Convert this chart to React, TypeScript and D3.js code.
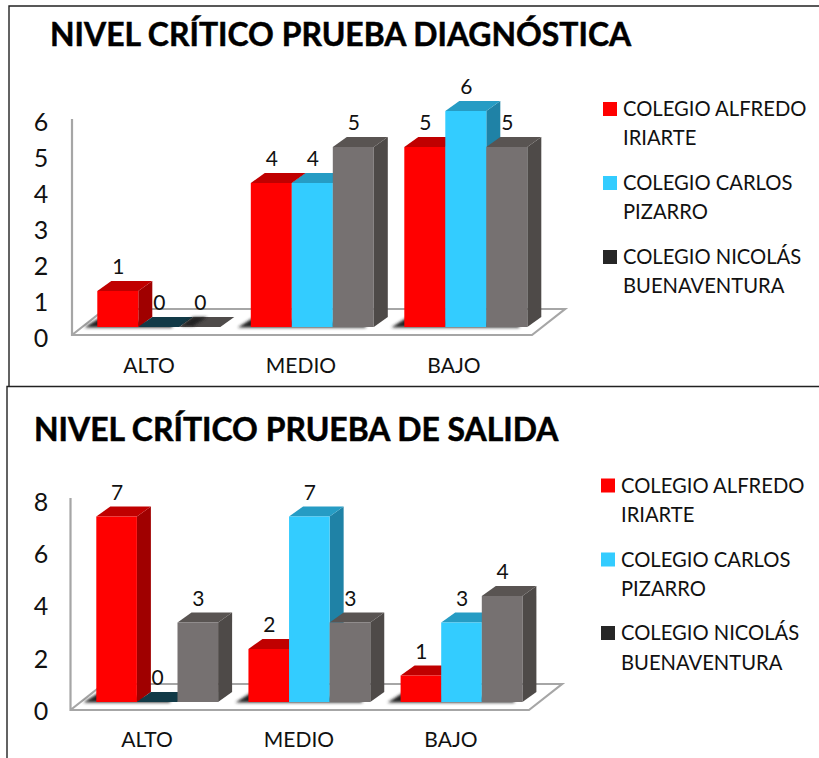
import React from "react";
import * as d3 from "d3";

const categories = ["ALTO", "MEDIO", "BAJO"];
const seriesNames = ["COLEGIO ALFREDO", "COLEGIO CARLOS", "COLEGIO NICOLÁS"];
const seriesSecondLines = ["IRIARTE", "PIZARRO", "BUENAVENTURA"];

const diagnosticTitle = "NIVEL CRÍTICO PRUEBA DIAGNÓSTICA";
const diagnosticAlfredo = [1, 4, 5];
const diagnosticCarlos = [0, 4, 6];
const diagnosticNicolas = [0, 5, 5];
const diagnosticTicks = [0, 1, 2, 3, 4, 5, 6];

const exitTitle = "NIVEL CRÍTICO PRUEBA DE SALIDA";
const exitAlfredo = [7, 2, 1];
const exitCarlos = [0, 7, 3];
const exitNicolas = [3, 3, 4];
const exitTicks = [0, 2, 4, 6, 8];

const FONT = "Lato, Carlito, 'Noto Sans', sans-serif";
const palette = [
  { front: "#ff0000", top: "#c00000", side: "#a00000", flat: "#c00000", swatch: "#ff0000" },
  { front: "#33ccff", top: "#269cc4", side: "#1f82a6", flat: "#123a47", swatch: "#33ccff" },
  { front: "#767171", top: "#595452", side: "#4e4a48", flat: "#4f4b4a", swatch: "#262626" },
];

type ChartProps = {
  id: string;
  title: string;
  titleX: number;
  titleY: number;
  values: number[][];
  ticks: number[];
  yBase: number;
  yTop: number;
  xFirst: number;
  xLast: number;
  barW: number;
  axisX: number;
  tickBase: number;
  tickTop: number;
  catCenters: number[];
  catY: number;
  floorRight: number;
  legendX: number;
  legendBaselines: number[];
};

function pts(p: number[][]) {
  return p.map((d) => d.join(",")).join(" ");
}

function Chart(c: ChartProps) {
  const maxV = d3.max(c.ticks) as number;
  const y = d3.scaleLinear().domain([0, maxV]).range([c.yBase, c.yTop]);
  const xCat = d3.scalePoint<string>().domain(categories).range([c.xFirst, c.xLast]);
  const xSer = d3.scaleBand<number>().domain([0, 1, 2]).range([0, c.barW * 3]);
  const tickY = d3.scaleLinear().domain([0, maxV]).range([c.tickBase, c.tickTop]);
  const dx = 14;
  const dy = 10;
  const floorFront = c.yBase + 8;
  const floorBack = floorFront - 26;
  const floorDx = 33;
  const line = d3.line();
  return (
    <g>
      <path
        d={line([[c.axisX, y(maxV) + 8], [c.axisX, floorFront], [c.floorRight, floorFront], [c.floorRight + floorDx, floorBack], [c.axisX + floorDx, floorBack], [c.axisX, floorFront]]) as string}
        fill="none"
        stroke="#a6a6a6"
        strokeWidth={2.2}
      />
      {categories.map((cat, ci) => {
        const x0 = xCat(cat) as number;
        const trim = ci === 0 ? 40 : 0;
        return (
          <polygon
            key={cat}
            filter={`url(#${c.id}blur)`}
            fill="#222"
            points={pts([
              [x0 - 13, c.yBase + 0.5],
              [x0 + c.barW * 3 - 8 - trim, c.yBase + 0.5],
              [x0 + c.barW * 3 - 8 - trim, c.yBase - 3],
              [x0 + 2, c.yBase - 9],
            ])}
          />
        );
      })}
      {categories.map((cat, ci) =>
        c.values.map((vals, si) => {
          const v = vals[ci];
          const x = (xCat(cat) as number) + (xSer(si) as number);
          const w = xSer.bandwidth();
          const t = y(v);
          const b = c.yBase;
          const p = palette[si];
          if (v === 0) {
            const prevFlat = si > 0 && c.values[si - 1][ci] === 0;
            return (
              <g key={cat + si}>
                <polygon fill={p.flat} points={pts([[x, b], [x + w, b], [x + w + dx, b - dy], [x + dx, b - dy]])} />
                {prevFlat && (
                  <polygon
                    filter={`url(#${c.id}blur)`}
                    fill="#222"
                    points={pts([[x + 2, b - 1], [x + 14, b - 1], [x + 28, b - dy], [x + 14, b - dy]])}
                  />
                )}
              </g>
            );
          }
          return (
            <g key={cat + si}>
              <polygon fill={p.side} points={pts([[x + w, t], [x + w + dx, t - dy], [x + w + dx, b - dy], [x + w, b]])} />
              <polygon fill={p.top} points={pts([[x, t], [x + dx, t - dy], [x + w + dx, t - dy], [x + w, t]])} />
              <rect x={x} y={t} width={w} height={b - t} fill={p.front} />
            </g>
          );
        })
      )}
      {categories.map((cat, ci) =>
        c.values.map((vals, si) => {
          const v = vals[ci];
          const x = (xCat(cat) as number) + (xSer(si) as number) + xSer.bandwidth() / 2;
          return (
            <text key={cat + si} x={x + 0.5} y={y(v) - 17} textAnchor="middle" fontSize={21} fill="#111">
              {v}
            </text>
          );
        })
      )}
      {c.ticks.map((t) => (
        <text key={t} x={41} y={tickY(t)} textAnchor="middle" fontSize={25} fill="#111">
          {t}
        </text>
      ))}
      {categories.map((cat, ci) => (
        <text key={cat} x={c.catCenters[ci]} y={c.catY} textAnchor="middle" fontSize={21} fill="#111">
          {cat}
        </text>
      ))}
      <text x={c.titleX} y={c.titleY} fontSize={31.9} fontWeight={700} fill="#000" stroke="#000" strokeWidth={0.5}>
        {c.title}
      </text>
      {seriesNames.map((name, si) => (
        <g key={name}>
          <rect
            x={c.legendX}
            y={c.legendBaselines[si * 2] - 14}
            width={14}
            height={14}
            fill={palette[si].swatch}
          />
          <text x={c.legendX + 20} y={c.legendBaselines[si * 2]} fontSize={20.2} fill="#111">
            {name}
          </text>
          <text x={c.legendX + 20} y={c.legendBaselines[si * 2 + 1]} fontSize={20.2} fill="#111">
            {seriesSecondLines[si]}
          </text>
        </g>
      ))}
    </g>
  );
}

export default function App() {
  return (
    <svg
      width={819}
      height={758}
      style={{ position: "absolute", left: 0, top: 0, display: "block", background: "#fff" }}
      fontFamily={FONT}
    >
      <defs>
        <filter id="ablur" x="-30%" y="-100%" width="160%" height="300%">
          <feGaussianBlur stdDeviation="1.6" />
        </filter>
        <filter id="bblur" x="-30%" y="-100%" width="160%" height="300%">
          <feGaussianBlur stdDeviation="1.6" />
        </filter>
      </defs>
      <path d="M9,386V6H819" fill="none" stroke="#222" strokeWidth={1.4} />
      <path d="M7,758V386.5H819" fill="none" stroke="#222" strokeWidth={1.4} />
      <Chart
        id="a"
        title={diagnosticTitle}
        titleX={50}
        titleY={46}
        values={[diagnosticAlfredo, diagnosticCarlos, diagnosticNicolas]}
        ticks={diagnosticTicks}
        yBase={327}
        yTop={111}
        xFirst={97.3}
        xLast={404.3}
        barW={41}
        axisX={72}
        tickBase={346.5}
        tickTop={130.5}
        catCenters={[149, 301, 454]}
        catY={373}
        floorRight={532}
        legendX={603}
        legendBaselines={[116, 145, 190, 219, 264, 293]}
      />
      <Chart
        id="b"
        title={exitTitle}
        titleX={34}
        titleY={441}
        values={[exitAlfredo, exitCarlos, exitNicolas]}
        ticks={exitTicks}
        yBase={702}
        yTop={490}
        xFirst={96.3}
        xLast={400.6}
        barW={40.6}
        axisX={70.5}
        tickBase={720}
        tickTop={510.5}
        catCenters={[147, 299, 451]}
        catY={747}
        floorRight={529}
        legendX={601}
        legendBaselines={[492.5, 522, 566.5, 596, 640, 670]}
      />
    </svg>
  );
}
